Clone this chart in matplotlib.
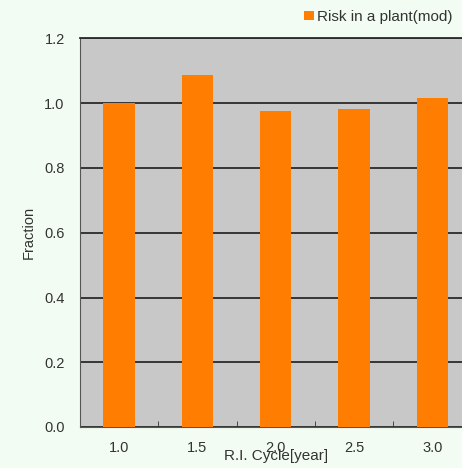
import matplotlib
matplotlib.use("Agg")
import matplotlib.pyplot as plt
import numpy as np

plt.rcParams['font.family'] = ['Liberation Sans', 'DejaVu Sans']

cycles = ['1.0', '1.5', '2.0', '2.5', '3.0']
risk = [1.00, 1.088, 0.977, 0.983, 1.017]
yticks = [0.0, 0.2, 0.4, 0.6, 0.8, 1.0, 1.2]

BG = '#f3fcf3'
ORANGE = '#ff7d00'
TXT = '#333333'

fig = plt.figure(figsize=(4.62, 4.68), dpi=100, facecolor=BG)
ax = fig.add_axes([80/462, 41/468, 391.5/462, 388.5/468])
ax.set_facecolor('#c8c8c8')

x = np.arange(len(cycles))
ax.bar(x, risk, width=0.4, color=ORANGE, zorder=3, label='Risk in a plant(mod)')

ax.set_xlim(-0.5, len(cycles) - 0.5)
ax.set_ylim(0, 1.2)
ax.set_yticks(yticks)
ax.set_yticklabels(['%.1f' % v for v in yticks], fontsize=10.5, color=TXT)
ax.yaxis.grid(True, color='#2a2a2a', linewidth=1.3, zorder=1)
ax.tick_params(axis='y', length=0, pad=11)

ax.set_xticks(x)
ax.set_xticklabels(cycles, fontsize=10.5, color=TXT)
ax.tick_params(axis='x', length=0, pad=10)
ax.set_xticks(x[:-1] + 0.5, minor=True)
ax.tick_params(axis='x', which='minor', direction='in', length=4, color='#333333')

ax.spines['top'].set_color('#2a2a2a')
ax.spines['top'].set_linewidth(1.3)
ax.spines['left'].set_color('#555555')
ax.spines['bottom'].set_color('#555555')
ax.spines['right'].set_visible(False)

ax.set_xlabel('R.I. Cycle[year]', fontsize=11, color=TXT, labelpad=-4)
ax.set_ylabel('Fraction', fontsize=10.5, color=TXT, labelpad=6)

fig.legend(loc='upper right', bbox_to_anchor=(1.0, 1.0), frameon=False,
           fontsize=11, handlelength=0.6, handleheight=0.6, handletextpad=0.2,
           borderaxespad=0.25, labelcolor=TXT)

fig.savefig('out.png', dpi=100, facecolor=BG)
